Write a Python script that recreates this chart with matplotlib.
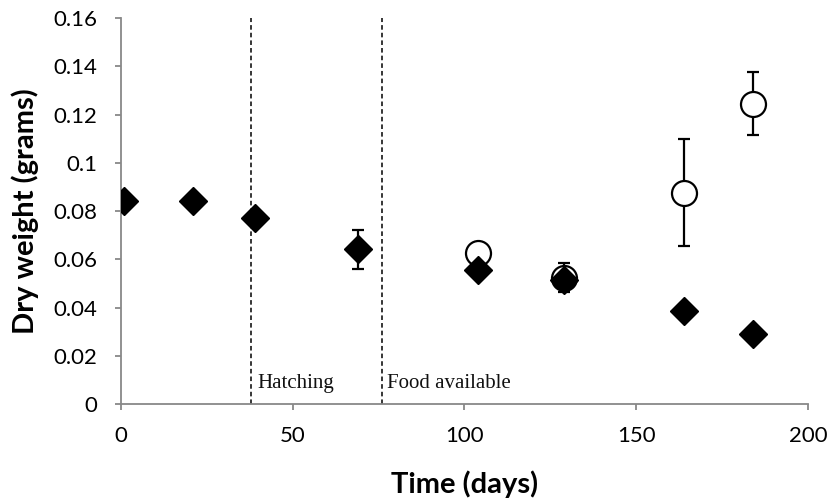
import matplotlib
matplotlib.use("Agg")
import matplotlib.pyplot as plt

# Data
diamond_x = [1, 21, 39, 69, 104, 129, 164, 184]
diamond_y = [0.0841, 0.0841, 0.0771, 0.0642, 0.0555, 0.0515, 0.0385, 0.0289]
diamond_err = [0, 0, 0, 0.008, 0, 0, 0, 0]

circle_x = [104, 129, 164, 184]
circle_y = [0.0625, 0.0525, 0.0877, 0.1245]
circle_err = [0.0030, 0.0062, 0.0222, 0.0131]

event_x = [38, 76]
event_labels = ["Hatching", "Food available"]

xticks = [0, 50, 100, 150, 200]
yticks = [0, 0.02, 0.04, 0.06, 0.08, 0.1, 0.12, 0.14, 0.16]
ytick_labels = ["0", "0.02", "0.04", "0.06", "0.08", "0.1", "0.12", "0.14", "0.16"]

fig = plt.figure(figsize=(8.32, 5.04), dpi=100)
ax = fig.add_axes([0.1454, 0.198, 0.8256, 0.766])

for xv, lab in zip(event_x, event_labels):
    ax.axvline(xv, color="black", linestyle=(0, (3, 2)), linewidth=1.1, zorder=1)
    ax.text(xv + 1.6, 0.0068, lab, fontfamily="Liberation Serif", fontsize=15,
            ha="left", va="baseline", color="#111111")

ax.errorbar(circle_x, circle_y, yerr=circle_err, fmt="o", markersize=18,
            markerfacecolor="white", markeredgecolor="black", markeredgewidth=1.6,
            ecolor="black", elinewidth=1.6, capsize=4.5, capthick=1.6, zorder=3)
ax.errorbar(diamond_x, diamond_y, yerr=diamond_err,
            fmt="D", markersize=14, markerfacecolor="black", markeredgecolor="black",
            ecolor="black", elinewidth=1.6, capsize=4.5, capthick=1.6, zorder=4)

ax.set_xlim(0, 200)
ax.set_ylim(0, 0.16)
ax.set_xticks(xticks)
ax.set_yticks(yticks)
ax.set_yticklabels(ytick_labels)
for lab in ax.get_xticklabels() + ax.get_yticklabels():
    lab.set_fontfamily("Lato")
    lab.set_fontsize(16)

for s in ["top", "right"]:
    ax.spines[s].set_visible(False)
for s in ["left", "bottom"]:
    ax.spines[s].set_color("#888888")
    ax.spines[s].set_linewidth(1.3)
ax.tick_params(axis="both", direction="out", length=4.5, width=1.3, color="#888888",
               labelcolor="black")
ax.tick_params(axis="y", pad=12.5)
ax.tick_params(axis="x", pad=11)

ax.set_xlabel("Time (days)", fontfamily="Lato", fontweight="bold", fontsize=21, labelpad=18)
ax.set_ylabel("Dry weight (grams)", fontfamily="Lato", fontweight="bold", fontsize=21, labelpad=10)

fig.savefig("out.png", dpi=100)
